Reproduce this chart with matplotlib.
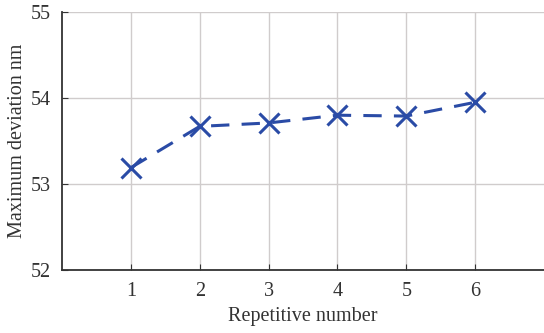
import matplotlib
matplotlib.use("Agg")
import matplotlib.pyplot as plt

repetition = [1, 2, 3, 4, 5, 6]
max_deviation = [53.19, 53.67, 53.71, 53.80, 53.79, 53.95]
y_ticks = [52, 53, 54, 55]

plt.rcParams['font.family'] = ['Liberation Serif', 'DejaVu Serif']

fig = plt.figure(figsize=(5.44, 3.33), dpi=100)
ax = fig.add_axes([62 / 544, 63 / 333, 482 / 544, 258 / 333])

ax.plot(repetition, max_deviation, color='#2a4ba6', linestyle=(0, (6, 4)),
        linewidth=2.2, marker='x', markersize=14, markeredgewidth=2.2)

ax.set_xlim(0, 7)
ax.set_ylim(52, 55)
ax.set_xticks(repetition)
ax.set_yticks(y_ticks)
ax.grid(True, color='#d0cccc', linewidth=1)
ax.set_axisbelow(True)

for side in ['top', 'right']:
    ax.spines[side].set_visible(False)
for side in ['left', 'bottom']:
    ax.spines[side].set_linewidth(1.3)
    ax.spines[side].set_color('#333333')

ax.tick_params(direction='in', length=4, labelsize=14.5, colors='#333333', labelcolor='#333333')
ax.tick_params(axis='x', pad=9)
ax.tick_params(axis='y', pad=8)
ax.set_xlabel('Repetitive number', fontsize=14.5, labelpad=4, color='#333333')
ax.set_ylabel('Maximum deviation nm', fontsize=14.5, labelpad=3, color='#333333')

fig.savefig('out.png', dpi=100)
